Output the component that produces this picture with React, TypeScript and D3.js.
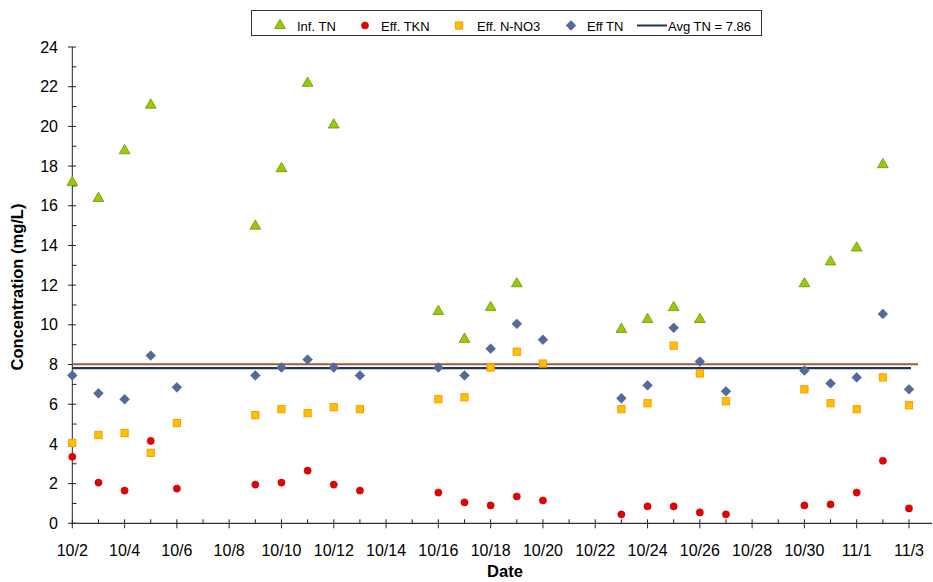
import * as d3 from 'd3';

const W = 933;
const H = 582;

// sample dates (October / November)
const dates = [
  '10/2', '10/3', '10/4', '10/5', '10/6', '10/9', '10/10', '10/11', '10/12', '10/13',
  '10/16', '10/17', '10/18', '10/19', '10/20', '10/23', '10/24', '10/25', '10/26', '10/27',
  '10/30', '10/31', '11/1', '11/2', '11/3',
];

const infTN = [
  17.2, 16.4, 18.8, 21.1, null, 15.0, 17.9, 22.2, 20.1, null,
  10.7, 9.3, 10.9, 12.1, null, 9.8, 10.3, 10.9, 10.3, null,
  12.1, 13.2, 13.9, 18.1, null,
];
const effTKN = [
  3.35, 2.05, 1.65, 4.15, 1.75, 1.95, 2.05, 2.65, 1.95, 1.65,
  1.55, 1.05, 0.9, 1.35, 1.15, 0.45, 0.85, 0.85, 0.55, 0.45,
  0.9, 0.95, 1.55, 3.15, 0.75,
];
const effNO3 = [
  4.05, 4.45, 4.55, 3.55, 5.05, 5.45, 5.75, 5.55, 5.85, 5.75,
  6.25, 6.35, 7.85, 8.65, 8.05, 5.75, 6.05, 8.95, 7.55, 6.15,
  6.75, 6.05, 5.75, 7.35, 5.95,
];
const effTN = [
  7.45, 6.55, 6.25, 8.45, 6.85, 7.45, 7.85, 8.25, 7.85, 7.45,
  7.85, 7.45, 8.8, 10.05, 9.25, 6.3, 6.95, 9.85, 8.15, 6.65,
  7.7, 7.05, 7.35, 10.55, 6.75,
];

const avgTN = 7.86;
const limitTN = 8;
const yTicks = d3.range(0, 25, 2);

const parseDate = (s: string) => {
  const [m, d] = s.split('/').map(Number);
  return new Date(2008, m - 1, d);
};

const start = parseDate('10/2');
const end = parseDate('11/3');

const x = d3.scaleTime().domain([start, end]).range([72.3, 909]);
const y = d3.scaleLinear().domain([0, 24]).range([523.3, 47]);

const fmt = d3.timeFormat('%-m/%-d');
const days = d3.timeDay.range(start, d3.timeDay.offset(end, 1));

const triPath = d3.symbol(d3.symbolTriangle, 50)() as string;
const diaPath = d3.symbol(d3.symbolSquare, 48)() as string;

const Tri = ({ cx, cy }: { cx: number; cy: number }) => (
  <path d={triPath} transform={`translate(${cx},${cy + 0.5})`} fill="#99CC00" stroke="#6F8F10" strokeWidth={0.8} />
);
const Dot = ({ cx, cy }: { cx: number; cy: number }) => (
  <circle cx={cx} cy={cy} r={3.6} fill="#E60000" stroke="#B00000" strokeWidth={0.5} />
);
const Sq = ({ cx, cy }: { cx: number; cy: number }) => (
  <rect x={cx - 3.6} y={cy - 3.6} width={7.2} height={7.2} fill="#FFC000" stroke="#FF9A00" strokeWidth={1} />
);
const Dia = ({ cx, cy }: { cx: number; cy: number }) => (
  <path d={diaPath} transform={`translate(${cx},${cy}) rotate(45)`} fill="#546A9C" stroke="#45598A" strokeWidth={0.5} />
);

const font = '"Liberation Sans", Arial, sans-serif';

export default function App() {
  const px = dates.map((d) => x(parseDate(d)));
  return (
    <svg width={W} height={H} style={{ position: 'absolute', left: 0, top: 0, background: '#fff' }} fontFamily={font}>
      {/* y axis */}
      <line x1={72.3} x2={72.3} y1={y(24)} y2={y(0)} stroke="#222" strokeWidth={1} />
      {d3.range(0, 25, 1).map((v) =>
        v % 2 === 0 ? (
          <line key={`yt${v}`} x1={68} x2={76} y1={y(v)} y2={y(v)} stroke="#222" />
        ) : (
          <line key={`yt${v}`} x1={72.3} x2={76.5} y1={y(v)} y2={y(v)} stroke="#222" />
        )
      )}
      {yTicks.map((v) => (
        <text key={`yl${v}`} x={58} y={y(v)} dy="0.35em" textAnchor="end" fontSize={16} fill="#000">
          {v}
        </text>
      ))}
      <text
        transform="translate(23,287) rotate(-90)"
        textAnchor="middle"
        fontSize={16.5}
        fontWeight="bold"
      >
        Concentration (mg/L)
      </text>

      {/* x axis */}
      <line x1={72.3} x2={932} y1={y(0)} y2={y(0)} stroke="#333" strokeWidth={1.2} />
      {days.map((d, i) =>
        i % 2 === 0 ? (
          <line key={`xt${i}`} x1={x(d)} x2={x(d)} y1={y(0) - 4} y2={y(0) + 5} stroke="#222" />
        ) : (
          <line key={`xt${i}`} x1={x(d)} x2={x(d)} y1={y(0) - 4} y2={y(0)} stroke="#222" />
        )
      )}
      {days
        .filter((_, i) => i % 2 === 0)
        .map((d, i) => (
          <text key={`xl${i}`} x={x(d)} y={556} textAnchor="middle" fontSize={16}>
            {fmt(d)}
          </text>
        ))}
      <text x={505} y={577} textAnchor="middle" fontSize={16.5} fontWeight="bold">
        Date
      </text>

      {/* reference lines */}
      <line x1={72.3} x2={918} y1={y(limitTN) - 0.3} y2={y(limitTN) - 0.3} stroke="#A85A30" strokeWidth={2.2} />
      <line x1={72.3} x2={911} y1={y(avgTN) + 0.8} y2={y(avgTN) + 0.8} stroke="#17375E" strokeWidth={2.2} />

      {/* series */}
      {effTKN.map((v, i) => (v == null ? null : <Dot key={`c${i}`} cx={px[i]} cy={y(v)} />))}
      {effNO3.map((v, i) => (v == null ? null : <Sq key={`s${i}`} cx={px[i]} cy={y(v)} />))}
      {effTN.map((v, i) => (v == null ? null : <Dia key={`d${i}`} cx={px[i]} cy={y(v)} />))}
      {infTN.map((v, i) => (v == null ? null : <Tri key={`t${i}`} cx={px[i]} cy={y(v)} />))}

      {/* legend */}
      <g fontSize={13}>
        <rect x={251.5} y={10.5} width={510} height={25} fill="#fff" stroke="#333" strokeWidth={1} />
        <Tri cx={280} cy={25} />
        <text x={297} y={27} dy="0.3em">Inf. TN</text>
        <Dot cx={365} cy={25.5} />
        <text x={381} y={27} dy="0.3em">Eff. TKN</text>
        <Sq cx={459} cy={25.5} />
        <text x={477} y={27} dy="0.3em">Eff. N-NO3</text>
        <Dia cx={571} cy={25.5} />
        <text x={587} y={27} dy="0.3em">Eff TN</text>
        <line x1={637} x2={667} y1={25.5} y2={25.5} stroke="#17375E" strokeWidth={2} />
        <text x={668} y={27} dy="0.3em">Avg TN = {avgTN.toFixed(2)}</text>
      </g>
    </svg>
  );
}
